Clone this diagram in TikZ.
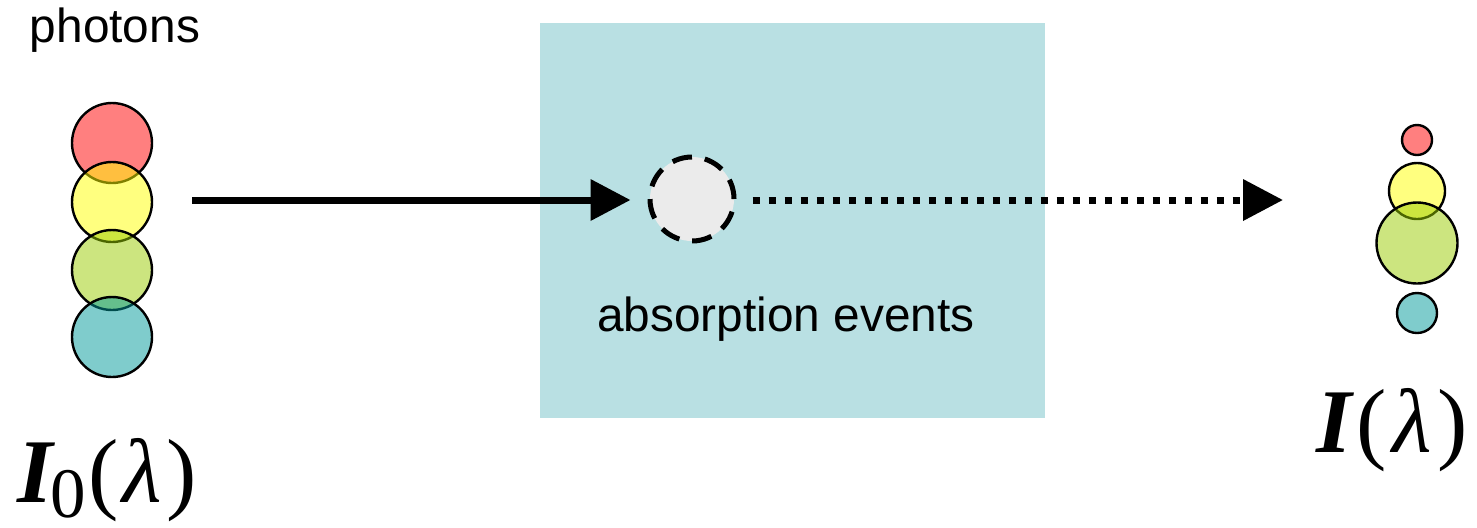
\documentclass[tikz,border=0pt]{standalone}
\usepackage{fontspec}
\setmainfont{Liberation Sans}
\newfontfamily\symfont{Liberation Serif}
\usetikzlibrary{arrows.meta}

\definecolor{mediumbg}{RGB}{185,224,227}
\definecolor{eventfill}{RGB}{235,235,235}
\definecolor{phred}{RGB}{255,0,0}
\definecolor{phyellow}{RGB}{255,255,0}
\definecolor{phgreen}{RGB}{153,204,0}
\definecolor{phteal}{RGB}{0,153,153}

% italic symbols of the intensity labels
\newcommand{\symI}{{\bfseries\itshape I}}
\newcommand{\symlam}{{\itshape λ}}

\tikzset{
  photon/.style={circle, draw=black, line width=1.2pt, inner sep=0pt,
                 minimum size=#1, fill opacity=0.5, text opacity=1},
  beam/.style={line width=3.5pt, -{Triangle[length=20pt,width=20pt]}},
  dottedbeam/.style={beam, dash pattern=on 3.5pt off 4.5pt},
  eventdot/.style={circle, draw=black, fill=eventfill, line width=2.5pt,
                   dash pattern=on 10pt off 6.5pt, minimum size=42pt, inner sep=0pt},
  caption/.style={font=\fontsize{23.9}{28}\selectfont, inner sep=0pt, anchor=base},
  intensity/.style={inner sep=0pt, anchor=base west,
                    font=\symfont\fontsize{45.5}{46}\selectfont}
}

\begin{document}
\begin{tikzpicture}[x=0.5pt, y=-0.5pt]
  \useasboundingbox (0,0) rectangle (1477,527);

  % absorbing medium
  \fill[mediumbg] (540,23) rectangle (1045,418);

  % incoming photons
  \node[photon=40pt, fill=phred]    (inred)    at (112,143) {};
  \node[photon=40pt, fill=phyellow] (inyellow) at (112,202) {};
  \node[photon=40pt, fill=phgreen]  (ingreen)  at (112,270) {};
  \node[photon=40pt, fill=phteal]   (inteal)   at (112,337) {};

  % transmitted photons
  \node[photon=15pt, fill=phred]    (outred)    at (1417,140) {};
  \node[photon=28pt, fill=phyellow] (outyellow) at (1417,191) {};
  \node[photon=40.5pt, fill=phgreen]  (outgreen)  at (1417,243) {};
  \node[photon=20pt, fill=phteal]   (outteal)   at (1417,313) {};

  % absorption event
  \node[eventdot] (event) at (692,199) {};

  \coordinate (beamstart) at (192,200);
  \coordinate (beamend) at (1283,200);

  \draw[beam, shorten >=8.5pt] (beamstart) -- (event.west |- beamstart);
  \draw[dottedbeam, shorten <=8pt] (event.east |- beamend) -- (beamend);

  % labels
  \node[caption] (photons) at (115,42) {photons};
  \node[caption] (events) at (786,331) {absorption events};

  \node[intensity] (izero) at (17,502)
    {\symI\kern-1pt\raisebox{-7.5pt}{\fontsize{35.5}{36}\selectfont 0}\kern1pt(\kern2pt\symlam\kern2pt)};
  \node[intensity] (iout) at (1316,452)
    {\symI\kern2.5pt(\kern2.5pt\symlam\kern3pt)};
\end{tikzpicture}
\end{document}
